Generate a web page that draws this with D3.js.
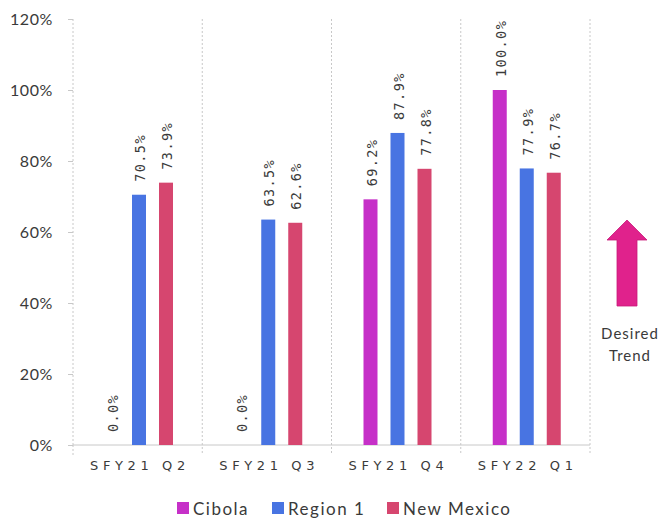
<!DOCTYPE html>
<html><head><meta charset="utf-8">
<script src="https://cdn.jsdelivr.net/npm/d3@7"></script>
<style>body{margin:0;background:#fff}svg{display:block}</style>
</head><body>
<script>
const categories = ["SFY21 Q2", "SFY21 Q3", "SFY21 Q4", "SFY22 Q1"];
const series = ["Cibola", "Region 1", "New Mexico"];
const cibola = [0.0, 0.0, 0.692, 1.0];
const region1 = [0.705, 0.635, 0.879, 0.779];
const newMexico = [0.739, 0.626, 0.778, 0.767];
const yTicks = [0, 0.2, 0.4, 0.6, 0.8, 1.0, 1.2];
const colors = ["#C630C8", "#4874E2", "#D6466F"];

const values = [cibola, region1, newMexico];
const W = 662, H = 521;
const svg = d3.select("body").append("svg").attr("width", W).attr("height", H);
const m = {l: 73, r: 590, t: 19, b: 445};
const x0 = d3.scaleBand().domain(categories).range([m.l, m.r]).padding(0);
const x1 = d3.scaleBand().domain(series).range([32, 100]).paddingInner(13/27).paddingOuter(0);
const y = d3.scaleLinear().domain([0, 1.2]).range([m.b, m.t]);
const grid = "#c8c8c8";
const txt = "#3a3a3a";

// vertical dotted dividers
const divs = categories.map(c => x0(c) + x0.bandwidth());
svg.append("g").selectAll("line").data(divs).join("line")
  .attr("x1", d => d).attr("x2", d => d).attr("y1", m.t).attr("y2", m.b + 10)
  .attr("stroke", grid).attr("stroke-dasharray", "2,2");

// y axis
const ya = svg.append("g").attr("transform", `translate(${m.l},0)`)
  .call(d3.axisLeft(y).tickValues(yTicks).tickFormat(d3.format(".0%")).tickSize(5).tickPadding(15));
ya.select(".domain").attr("stroke", grid).attr("stroke-dasharray", "2,2").attr("d", `M0,${m.t}V${m.b}`);
ya.selectAll(".tick line").attr("stroke", grid);
ya.selectAll("text").attr("font-family", "Lato").attr("font-size", 16).attr("letter-spacing", "0.6px").attr("fill", txt);

// x axis
const xa = svg.append("g").attr("transform", `translate(0,${m.b})`)
  .call(d3.axisBottom(x0).tickSize(0).tickPadding(15));
xa.select(".domain").attr("stroke", grid).attr("d", `M${m.l},0H${m.r}`);
xa.selectAll("text").attr("font-family", "DejaVu Sans").attr("font-size", 13)
  .attr("letter-spacing", "4.6px").attr("fill", txt).attr("dx", "2.3px").attr("dy", "0.8em");
svg.append("line").attr("x1", m.l).attr("x2", m.l).attr("y1", m.b).attr("y2", m.b + 10)
  .attr("stroke", grid).attr("stroke-dasharray", "2,2");

// bars
const g = svg.append("g");
const pts = [];
categories.forEach((c, i) => series.forEach((s, j) => pts.push({c, s, j, v: values[j][i]})));
g.selectAll("rect").data(pts).join("rect")
  .attr("x", d => x0(d.c) + x1(d.s)).attr("width", x1.bandwidth())
  .attr("y", d => y(d.v)).attr("height", d => y(0) - y(d.v))
  .attr("fill", d => colors[d.j]);
g.selectAll("text").data(pts).join("text")
  .attr("transform", d => `translate(${x0(d.c) + x1(d.s) + x1.bandwidth()/2 + 1},${y(d.v) - 13}) rotate(-90)`)
  .attr("dominant-baseline", "central")
  .attr("font-family", "DejaVu Sans Mono").attr("font-size", 13.5).attr("letter-spacing", "1.4px")
  .attr("fill", txt)
  .text(d => d3.format(".1%")(d.v));

// legend
const lx = [177, 272, 387];
const lg = svg.append("g").selectAll("g").data(series).join("g")
  .attr("transform", (d, i) => `translate(${lx[i]},508)`);
lg.append("rect").attr("x", 0).attr("y", -6).attr("width", 12).attr("height", 12).attr("fill", (d, i) => colors[i]);
lg.append("text").attr("x", 16).attr("dominant-baseline", "central")
  .attr("font-family", "Lato").attr("font-size", 17).attr("letter-spacing", "1.5px").attr("fill", txt).text(d => d);

// desired trend arrow
svg.append("path")
  .attr("d", "M627,220 L647,240 L637,240 L637,306 L617,306 L617,240 L607,240 Z")
  .attr("fill", "#E0228C").attr("stroke", "#C81A7A").attr("stroke-width", 0.8);
svg.append("text").attr("x", 630).attr("y", 333).attr("text-anchor", "middle").attr("dominant-baseline", "central")
  .attr("font-family", "Lato").attr("font-size", 15).attr("letter-spacing", "1px").attr("fill", txt).text("Desired");
svg.append("text").attr("x", 630).attr("y", 355).attr("text-anchor", "middle").attr("dominant-baseline", "central")
  .attr("font-family", "Lato").attr("font-size", 15).attr("letter-spacing", "1px").attr("fill", txt).text("Trend");
</script>
</body></html>
